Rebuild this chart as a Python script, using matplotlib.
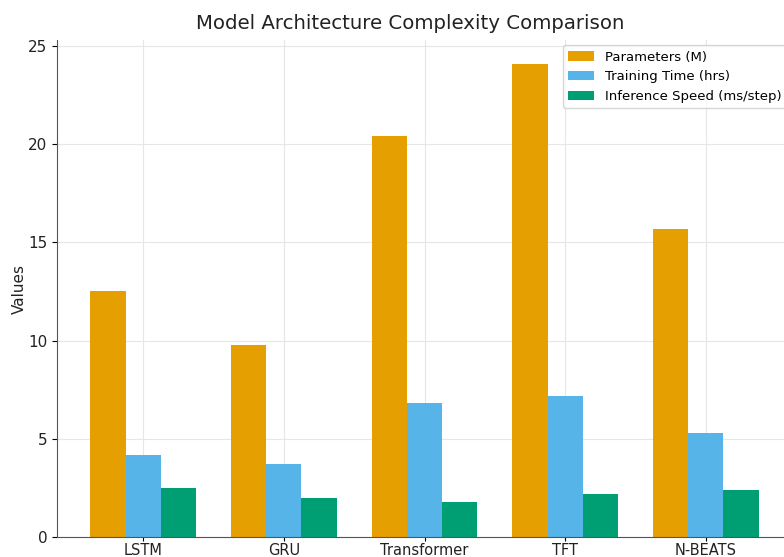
import numpy as np
import matplotlib.pyplot as plt

models = ['LSTM', 'GRU', 'Transformer', 'TFT', 'N-BEATS']
params_m = [12.5, 9.8, 20.4, 24.1, 15.7]
train_hrs = [4.2, 3.7, 6.8, 7.2, 5.3]
infer_ms = [2.5, 2.0, 1.8, 2.2, 2.4]

series = [
    ('Parameters (M)', params_m, '#E69F00'),
    ('Training Time (hrs)', train_hrs, '#56B4E9'),
    ('Inference Speed (ms/step)', infer_ms, '#009E73'),
]

fig = plt.figure(figsize=(7.84, 5.57), dpi=100)
# axes run a little past the right edge of the canvas
ax = fig.add_axes([57 / 784, 20 / 557, 735 / 784, 497 / 557])

x = np.arange(len(models))
w = 0.25
for i, (name, vals, col) in enumerate(series):
    ax.bar(x + (i - 1) * w, vals, w, label=name, color=col, zorder=2)

ax.set_xticks(x)
ax.set_xticklabels(models, fontsize=10.5, color='#222222')
ax.tick_params(axis='x', pad=1.5, length=3)
ax.tick_params(axis='y', labelsize=11, labelcolor='#222222')
ax.set_ylabel('Values', fontsize=11, color='#222222', labelpad=1)
ax.set_title('Model Architecture Complexity Comparison', fontsize=14.2,
             pad=8, x=0.48, color='#222222')
ax.grid(True, color='#e6e6e6', linewidth=0.8, zorder=0)
for s in ['top', 'right']:
    ax.spines[s].set_visible(False)
for s in ['left', 'bottom']:
    ax.spines[s].set_color('#555555')
ax.legend(loc='upper right', fontsize=9.5, borderaxespad=0.4)

fig.savefig('out.png', dpi=100)
